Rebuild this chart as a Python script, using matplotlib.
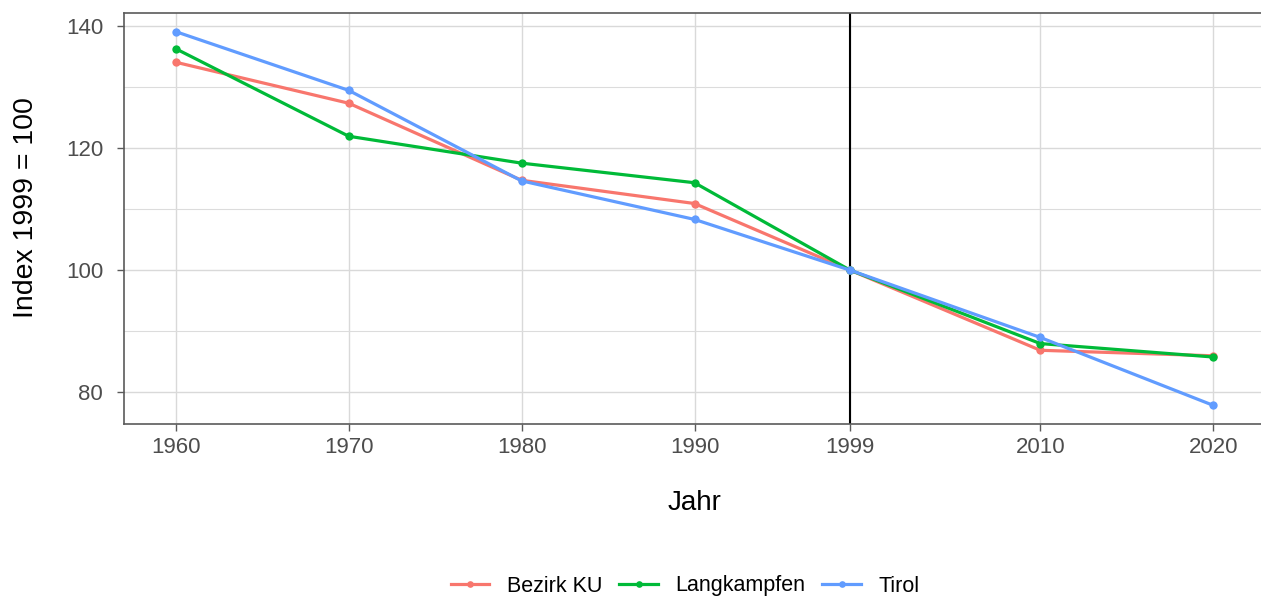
import matplotlib
matplotlib.use("Agg")
import matplotlib.pyplot as plt
from matplotlib.ticker import MultipleLocator

plt.rcParams['font.family'] = ['Liberation Sans', 'DejaVu Sans']

years = [1960, 1970, 1980, 1990, 1999, 2010, 2020]
year_labels = ["1960", "1970", "1980", "1990", "1999", "2010", "2020"]
series_names = ["Bezirk KU", "Langkampfen", "Tirol"]
bezirk_ku = [134.0, 127.3, 114.7, 110.9, 100.0, 86.9, 86.0]
langkampfen = [136.2, 121.9, 117.5, 114.3, 100.0, 88.0, 85.8]
tirol = [139.0, 129.4, 114.6, 108.3, 100.0, 89.0, 77.9]
y_ticks = [80, 100, 120, 140]
ref_year = 1999

colors = ["#F8766D", "#00BA38", "#619CFF"]

W, H = 1261, 598
fig = plt.figure(figsize=(W / 100, H / 100), dpi=100)
left, right, top, bottom = 124, 1265, 13, 424
ax = fig.add_axes([left / W, 1 - bottom / H, (right - left) / W, (bottom - top) / H])

ax.axvline(ref_year, color="black", lw=1.5, zorder=2)

for name, vals, c in zip(series_names, [bezirk_ku, langkampfen, tirol], colors):
    ax.plot(years, vals, color=c, lw=2.3, marker="o", markersize=6,
            markeredgewidth=0, label=name, zorder=3)

ax.margins(x=0.05, y=0.05)
ax.set_xticks(years)
ax.set_xticklabels(year_labels)
ax.set_yticks(y_ticks)
ax.yaxis.set_minor_locator(MultipleLocator(10))

ax.grid(True, which="major", color="#D9D9D9", lw=1.0, zorder=0)
ax.grid(True, which="minor", axis="y", color="#DCDCDC", lw=0.8, zorder=0)
ax.set_axisbelow(True)

for s in ["left", "bottom", "top"]:
    ax.spines[s].set_color("#5A5A5A")
    ax.spines[s].set_linewidth(1.2)
ax.spines["right"].set_visible(False)

ax.tick_params(axis="both", which="major", length=5, width=1.0, color="#5A5A5A",
               labelcolor="#4D4D4D", labelsize=16)
ax.tick_params(axis="y", which="major", pad=10)
ax.tick_params(axis="x", which="major", pad=4.5)
ax.tick_params(axis="y", which="minor", length=0)

ax.set_xlabel("Jahr", fontsize=20, color="black", va="baseline")
ax.xaxis.set_label_coords(0.5, (bottom - 510) / (bottom - top))
ax.set_ylabel("Index 1999 = 100", fontsize=20.5, color="black", va="baseline")
ax.yaxis.set_label_coords((33 - left) / (right - left), (bottom - 208) / (bottom - top))

handles, labels = ax.get_legend_handles_labels()
leg = fig.legend(handles, labels, loc="center", ncol=3, frameon=False,
                 bbox_to_anchor=(685 / W, 1 - 586 / H), fontsize=15.5,
                 handlelength=1.8, handletextpad=0.8, columnspacing=0.8,
                 markerscale=0.8)

fig.savefig("out.png", dpi=100)
